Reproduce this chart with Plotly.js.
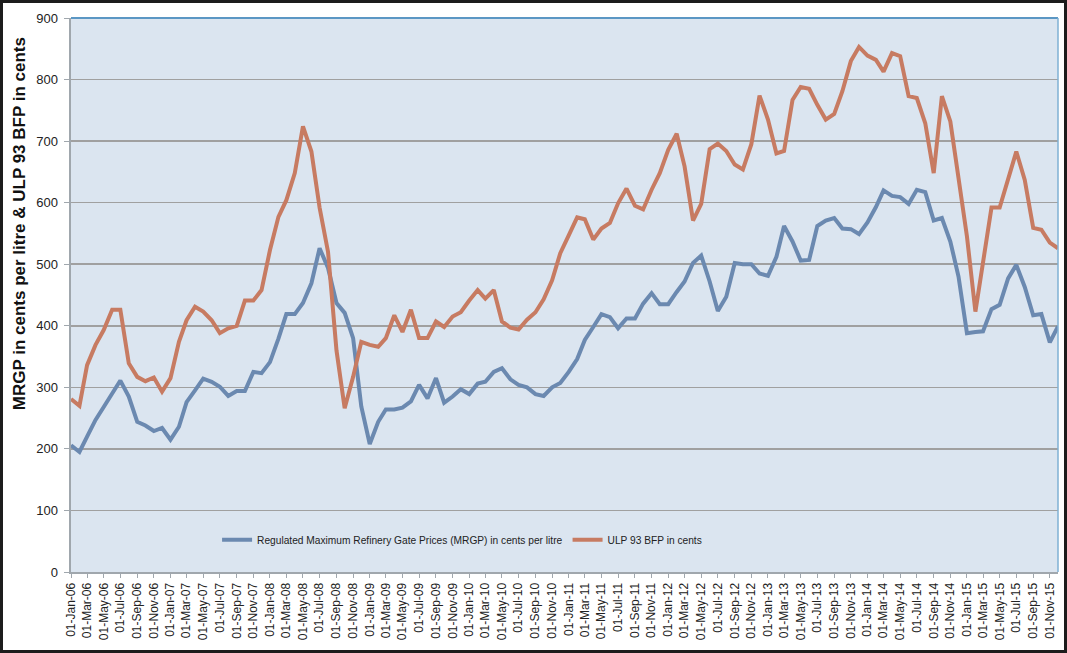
<!DOCTYPE html>
<html>
<head>
<meta charset="utf-8">
<script src="https://cdn.plot.ly/plotly-3.0.1.min.js"></script>
<style>
  html, body { margin: 0; padding: 0; background: #ffffff; }
  #wrap { position: relative; width: 1067px; height: 653px; }
  #chart { width: 1067px; height: 653px; }
  #frame { position: absolute; left: 0; top: 0; width: 1067px; height: 653px; box-sizing: border-box; border: 3px solid #1c1c1c; pointer-events: none; }
</style>
</head>
<body>
<div id="wrap"><div id="chart"></div><div id="frame"></div></div>
<script>
// Monthly series, Jan-2006 .. Dec-2015
const startYear = 2006;
const monthsCount = 120;

const mrgp = [
  206, 195, 220, 247, 268, 290, 311, 285, 244, 238, 229, 234,
  215, 236, 276, 295, 314, 309, 301, 286, 294, 294, 325, 323,
  341, 379, 419, 419, 437, 469, 526, 494, 437, 421, 380, 269,
  208, 244, 264, 264, 267, 277, 304, 282, 315, 275, 285, 297,
  289, 306, 309, 325, 331, 313, 304, 300, 289, 286, 300, 307,
  325, 346, 377, 398, 419, 414, 396, 412, 412, 436, 453, 435,
  435, 455, 472, 502, 514, 472, 424, 447, 502, 500, 500, 485,
  481, 512, 562, 537, 506, 507, 562, 571, 575, 558, 557, 549,
  568, 593, 620, 611, 609, 598, 621, 617, 571, 575, 537, 480,
  388, 390, 391, 427, 434, 477, 499, 463, 417, 419, 373, 399
];

const ulp93 = [
  281, 270, 336, 369, 393, 426, 426, 339, 317, 310, 316, 293,
  315, 374, 409, 431, 423, 409, 388, 396, 400, 441, 441, 458,
  523, 577, 604, 648, 724, 683, 592, 520, 360, 266, 317, 374,
  369, 366, 380, 417, 390, 426, 380, 380, 407, 398, 415, 422,
  441, 458, 444, 458, 407, 397, 394, 410, 422, 443, 474, 518,
  547, 576, 573, 540, 558, 567, 599, 623, 595, 589, 621, 648,
  686, 712, 659, 571, 598, 687, 696, 684, 662, 654, 695, 774,
  735, 680, 684, 767, 788, 785, 759, 735, 744, 781, 830, 853,
  839, 832, 813, 843, 838, 773, 770, 729, 648, 773, 732, 645,
  545, 423, 507, 592, 592, 640, 683, 637, 559, 556, 535, 526
];

const seriesNames = [
  "Regulated Maximum Refinery Gate Prices (MRGP) in cents per litre",
  "ULP 93 BFP in cents"
];
const yTitle = "MRGP in cents per litre & ULP 93 BFP in cents";

// month dates (1st of each month)
const dates = [];
for (let i = 0; i < monthsCount; i++) {
  const y = startYear + Math.floor(i / 12);
  const m = (i % 12) + 1;
  dates.push(y + "-" + (m < 10 ? "0" + m : m) + "-01");
}

const FONT = "Liberation Sans, Arial, sans-serif";

const traces = [
  { x: dates, y: mrgp, name: seriesNames[0], type: "scatter", mode: "lines",
    line: { color: "#6b89b0", width: 4 } },
  { x: dates, y: ulp93, name: seriesNames[1], type: "scatter", mode: "lines",
    line: { color: "#c77b62", width: 4 } }
];

const layout = {
  width: 1067, height: 653,
  margin: { l: 71, r: 9, t: 18, b: 81, pad: 0 },
  paper_bgcolor: "#ffffff",
  plot_bgcolor: "#dbe5f0",
  font: { family: FONT, color: "#222222" },
  showlegend: true,
  legend: {
    orientation: "h", x: 0.148, xanchor: "left", y: 0.058, yanchor: "middle",
    bgcolor: "rgba(0,0,0,0)", font: { family: FONT, size: 10.2, color: "#222222" },
    traceorder: "normal"
  },
  xaxis: {
    type: "date",
    range: [dates[0], dates[dates.length - 1]],
    tick0: dates[0], dtick: "M2",
    tickformat: "%d-%b-%y",
    tickangle: -90,
    tickfont: { family: FONT, size: 12, color: "#222222" },
    ticks: "outside", ticklen: 4, tickcolor: "#a0a7ad",
    showgrid: false, zeroline: false,
    showline: true, linecolor: "#a0a7ad", linewidth: 2,
    fixedrange: true
  },
  yaxis: {
    range: [0, 900], dtick: 100, tick0: 0,
    tickfont: { family: FONT, size: 13, color: "#222222" },
    ticks: "outside", ticklen: 5, tickcolor: "#a0a7ad",
    ticklabelstandoff: 3,
    showgrid: true, gridcolor: "#a0a0a0", gridwidth: 1.5,
    zeroline: false,
    showline: true, linecolor: "#a0a7ad", linewidth: 2.5,
    fixedrange: true
  },
  shapes: [
    { type: "line", xref: "paper", yref: "paper", x0: 0, x1: 1, y0: 1, y1: 1,
      line: { color: "#5b97c4", width: 2 }, layer: "above" },
    { type: "line", xref: "paper", yref: "paper", x0: 1, x1: 1, y0: 0, y1: 1,
      line: { color: "#7fb0d4", width: 1.5 }, layer: "above" }
  ],
  annotations: [
    { text: "<b>" + yTitle.replace("&", "&amp;") + "</b>", textangle: -90,
      xref: "paper", yref: "paper", x: -0.052, y: 0.629,
      xanchor: "center", yanchor: "middle", showarrow: false,
      font: { family: FONT, size: 17, color: "#111111" } }
  ]
};

Plotly.newPlot("chart", traces, layout, { displayModeBar: false, staticPlot: true });
</script>
</body>
</html>
